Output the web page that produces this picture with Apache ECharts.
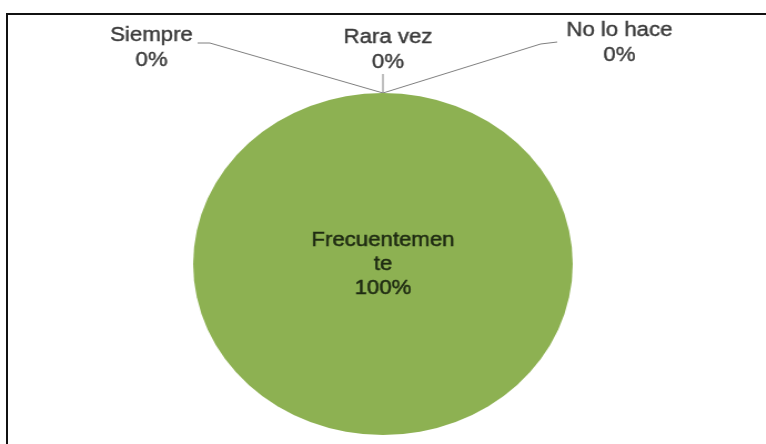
<!DOCTYPE html>
<html>
<head>
<meta charset="utf-8">
<script src="https://cdn.jsdelivr.net/npm/echarts@6/dist/echarts.min.js"></script>
<style>
  html, body { margin: 0; padding: 0; background: #fff; overflow: hidden; }
  #frame {
    position: absolute; left: 6px; top: 13px; width: 780px; height: 460px;
    border: 2px solid #111; box-sizing: border-box;
  }
  /* la imagen original está estirada en horizontal */
  #chart {
    position: absolute; left: 0; top: 0; width: 690px; height: 444px;
    transform: scaleX(1.11); transform-origin: 0 0;
  }
</style>
</head>
<body>
<div id="frame"></div>
<div id="chart"></div>
<script>
// datos del gráfico
const categorias = ["Siempre", "Frecuentemente", "Rara vez", "No lo hace"];
const valores = [0, 100, 0, 0];
const etiquetasPct = ["0%", "100%", "0%", "0%"];

const cx = 345, cy = 264, r = 171;

// posición de las etiquetas exteriores (coordenadas del gráfico)
const posEtiquetas = {
  0: { x: 136.5, y: 48, line: [[cx, cy - r], [189, 43], [178, 43]] },
  2: { x: 349.5, y: 50, line: [[cx, cy - r], [cx, 78], [cx, 74]] },
  3: { x: 558, y: 43, line: [[cx, cy - r], [487, 44], [502, 42]] }
};

const mychart = echarts.init(document.getElementById("chart"));
const option = {
  animation: false,
  series: [{
    type: "pie",
    center: [cx, cy],
    radius: [0, r],
    startAngle: 90,
    clockwise: true,
    stillShowZeroSum: true,
    avoidLabelOverlap: false,
    itemStyle: { color: "#8db152" },
    label: {
      show: true,
      color: "#3a3a3a",
      fontFamily: "Liberation Sans, Arial, sans-serif",
      fontSize: 20,
      lineHeight: 25,
      align: "center",
      textBorderColor: "#3a3a3a",
      textBorderWidth: 0.4,
      formatter: p => p.name + "\n" + etiquetasPct[p.dataIndex]
    },
    labelLine: {
      show: true,
      lineStyle: { color: "#7f7f7f", width: 1 }
    },
    labelLayout: function (params) {
      const p = posEtiquetas[params.dataIndex];
      if (!p) return {};
      return {
        x: p.x, y: p.y, align: "center", verticalAlign: "middle",
        labelLinePoints: p.line
      };
    },
    data: categorias.map((c, i) => {
      const d = { name: c, value: valores[i] };
      if (i === 1) {
        d.label = {
          position: "center",
          color: "#1e2a12",
          textBorderColor: "#1e2a12",
          textBorderWidth: 0.5,
          fontSize: 20,
          lineHeight: 24,
          formatter: "Frecuentemen\nte\n" + etiquetasPct[i]
        };
        d.labelLine = { show: false };
      }
      return d;
    })
  }]
};
mychart.setOption(option);
</script>
</body>
</html>
